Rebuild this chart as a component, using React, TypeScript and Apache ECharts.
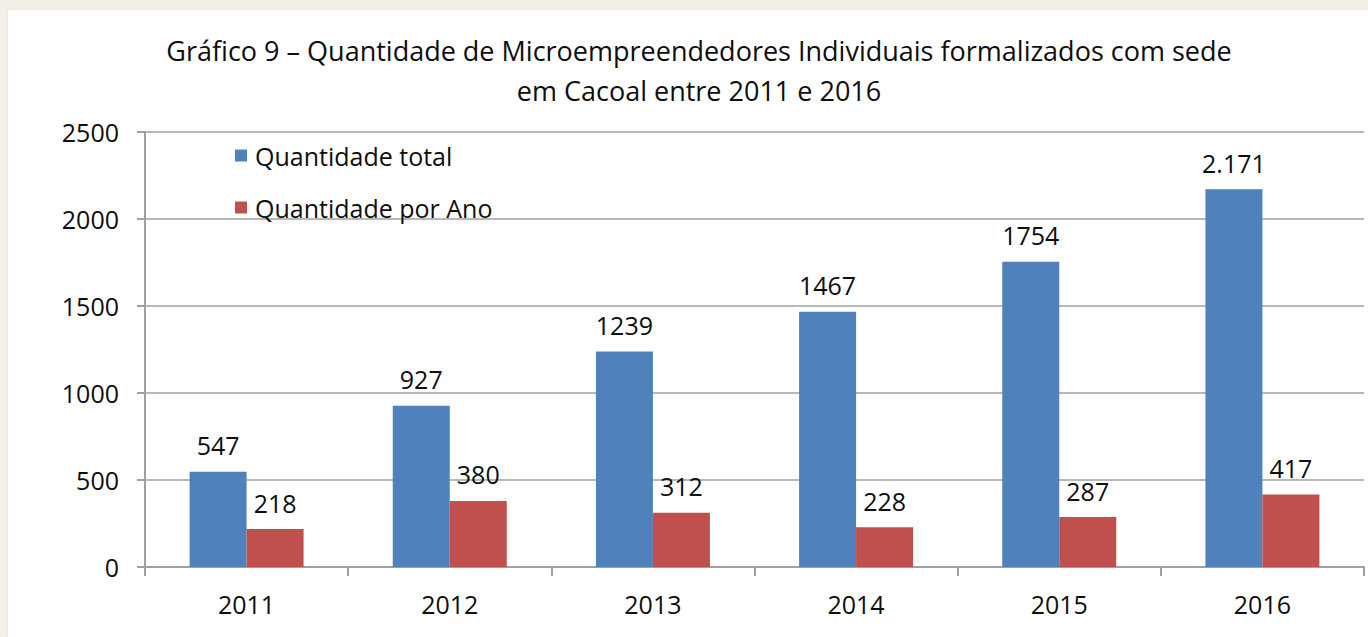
import React, { useEffect, useRef } from "react";
import * as echarts from "echarts";

const titleLines = [
  "Gráfico 9 – Quantidade de Microempreendedores Individuais formalizados com sede",
  "em Cacoal entre 2011 e 2016",
];
const years = ["2011", "2012", "2013", "2014", "2015", "2016"];
const totalValues = [547, 927, 1239, 1467, 1754, 2171];
const perYearValues = [218, 380, 312, 228, 287, 417];
const seriesNames = ["Quantidade total", "Quantidade por Ano"];

const FONT = "'Open Sans', sans-serif";
const TEXT = "#0e0e0e";

export default function App() {
  const ref = useRef<HTMLDivElement>(null);
  useEffect(() => {
    if (!ref.current) return;
    const chart = echarts.init(ref.current, undefined, { renderer: "svg" });
    const labelStyle = {
      show: true,
      position: "top" as const,
      distance: 14,
      fontFamily: FONT,
      fontSize: 25,
      color: TEXT,
    };
    chart.setOption({
      animation: false,
      backgroundColor: "#ffffff",
      title: {
        text: titleLines.join("\n"),
        left: 686,
        textAlign: "center",
        top: 15,
        textStyle: {
          fontFamily: FONT,
          fontSize: 27,
          fontWeight: "normal",
          color: TEXT,
          lineHeight: 40,
        },
      },
      legend: {
        orient: "vertical",
        left: 222,
        top: 128,
        itemWidth: 12,
        itemHeight: 12,
        itemGap: 27,
        icon: "rect",
        textStyle: { fontFamily: FONT, fontSize: 25, color: TEXT, padding: [0, 0, 0, 3] },
        data: seriesNames,
      },
      grid: { left: 137, top: 122, right: 4, bottom: 70, containLabel: false },
      xAxis: {
        type: "category",
        data: years,
        axisLine: { lineStyle: { color: "#a0a0a0", width: 2 } },
        axisTick: { show: true, length: 9, lineStyle: { color: "#a0a0a0", width: 2 } },
        axisLabel: { fontFamily: FONT, fontSize: 25, color: TEXT, margin: 24 },
      },
      yAxis: {
        type: "value",
        min: 0,
        max: 2500,
        interval: 500,
        axisLine: { show: true, lineStyle: { color: "#a0a0a0", width: 2 } },
        axisTick: { show: true, length: 8, lineStyle: { color: "#a0a0a0", width: 2 } },
        splitLine: { lineStyle: { color: "#b8b8b8", width: 2 } },
        axisLabel: {
          fontFamily: FONT,
          fontSize: 25,
          color: TEXT,
          margin: 26,
          formatter: (v: number) => String(v),
        },
      },
      series: [
        {
          name: seriesNames[0],
          type: "bar",
          data: totalValues,
          barWidth: 57,
          barGap: "0%",
          itemStyle: { color: "#4f81bd" },
          label: {
            ...labelStyle,
            formatter: (p: any) =>
              p.value >= 2000 ? (p.value / 1000).toFixed(3) : String(p.value),
          },
        },
        {
          name: seriesNames[1],
          type: "bar",
          data: perYearValues,
          barWidth: 57,
          barGap: "0%",
          itemStyle: { color: "#c0504d" },
          label: labelStyle,
        },
      ],
    });
    return () => chart.dispose();
  }, []);
  return (
    <div
      style={{
        position: "fixed",
        left: 0,
        top: 0,
        width: 1368,
        height: 637,
        background: "#f2f0e6",
      }}
    >
      <div
        ref={ref}
        style={{
          position: "absolute",
          left: 8,
          top: 10,
          width: 1360,
          height: 627,
          boxShadow: "0 0 2px #d8d6cc",
        }}
      />
    </div>
  );
}
